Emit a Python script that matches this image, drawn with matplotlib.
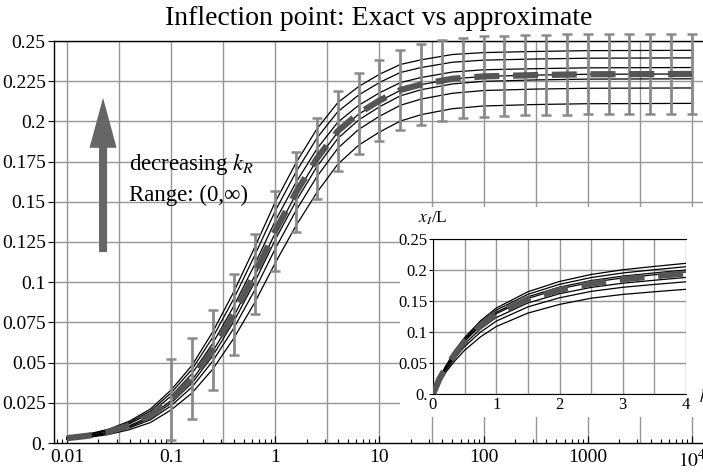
import numpy as np
import matplotlib
matplotlib.use("Agg")
import matplotlib.pyplot as plt
from matplotlib.ticker import LogLocator, NullFormatter, FixedLocator
from matplotlib.patches import FancyArrowPatch

plt.rcParams['font.family'] = ['Liberation Serif', 'DejaVu Serif']
plt.rcParams['mathtext.fontset'] = 'stix'

# ---- main panel (log x) ----
main_logx = [-2.0, -1.8, -1.6, -1.4, -1.2, -1.0, -0.8, -0.6, -0.4, -0.2, 0.0, 0.2, 0.4,
             0.6, 0.8, 1.0, 1.2, 1.4, 1.7, 2.0, 2.5, 3.0, 4.0]

exact_a = [0.0038, 0.0055, 0.0086, 0.0136, 0.0211, 0.0330, 0.0483, 0.0692, 0.0939, 0.1214, 0.1500, 0.1744, 0.1954,
           0.2117, 0.2217, 0.2293, 0.2354, 0.2383, 0.2416, 0.2428, 0.2435, 0.2440, 0.2442]
exact_b = [0.0035, 0.0052, 0.0081, 0.0128, 0.0198, 0.0312, 0.0458, 0.0658, 0.0896, 0.1164, 0.1444, 0.1687, 0.1897,
           0.2061, 0.2164, 0.2242, 0.2304, 0.2335, 0.2368, 0.2381, 0.2388, 0.2393, 0.2395]
exact_c = [0.0033, 0.0049, 0.0076, 0.0120, 0.0185, 0.0292, 0.0431, 0.0621, 0.0850, 0.1108, 0.1382, 0.1622, 0.1830,
           0.1995, 0.2100, 0.2178, 0.2241, 0.2273, 0.2307, 0.2321, 0.2328, 0.2333, 0.2335]
exact_d = [0.0029, 0.0044, 0.0068, 0.0108, 0.0166, 0.0264, 0.0392, 0.0570, 0.0788, 0.1037, 0.1307, 0.1549, 0.1761,
           0.1933, 0.2045, 0.2126, 0.2193, 0.2229, 0.2264, 0.2280, 0.2288, 0.2293, 0.2295]
exact_e = [0.0027, 0.0041, 0.0064, 0.0101, 0.0156, 0.0249, 0.0372, 0.0543, 0.0755, 0.0998, 0.1265, 0.1506, 0.1719,
           0.1894, 0.2009, 0.2091, 0.2159, 0.2197, 0.2233, 0.2249, 0.2258, 0.2263, 0.2265]
exact_f = [0.0025, 0.0039, 0.0060, 0.0094, 0.0144, 0.0232, 0.0348, 0.0510, 0.0713, 0.0948, 0.1209, 0.1447, 0.1657,
           0.1833, 0.1950, 0.2032, 0.2100, 0.2139, 0.2175, 0.2192, 0.2201, 0.2206, 0.2208]
exact_g = [0.0022, 0.0034, 0.0053, 0.0083, 0.0127, 0.0206, 0.0311, 0.0460, 0.0650, 0.0871, 0.1121, 0.1353, 0.1559,
           0.1734, 0.1852, 0.1934, 0.2002, 0.2042, 0.2079, 0.2096, 0.2105, 0.2110, 0.2112]
approx_main = [0.0030, 0.0045, 0.0070, 0.0110, 0.0170, 0.0270, 0.0400, 0.0580, 0.0800, 0.1050, 0.1320, 0.1560, 0.1770,
               0.1940, 0.2050, 0.2130, 0.2195, 0.2230, 0.2265, 0.2280, 0.2288, 0.2293, 0.2295]

bar_logx = [-1.0, -0.8, -0.6, -0.4, -0.2, 0.0, 0.2, 0.4, 0.6, 0.8, 1.0, 1.2, 1.4,
            1.6, 1.8, 2.0, 2.2, 2.4, 2.6, 2.8, 3.0, 3.2, 3.4, 3.6, 3.8, 4.0]
bar_mid = [0.027, 0.040, 0.058, 0.080, 0.105, 0.132, 0.156, 0.177, 0.194, 0.205, 0.213, 0.2195, 0.223,
           0.2255, 0.227, 0.228, 0.2284, 0.2287, 0.2289, 0.2291, 0.2293, 0.2294, 0.2294, 0.2295, 0.2295, 0.2295]
bar_err = 0.025

main_xticks = [0.01, 0.1, 1, 10, 100, 1000, 10000]
main_xlabels = ['0.01', '0.1', '1', '10', '100', '1000', r'$10^4$']
main_yticks = [0, 0.025, 0.05, 0.075, 0.1, 0.125, 0.15, 0.175, 0.2, 0.225, 0.25]
main_ylabels = ['0.', '0.025', '0.05', '0.075', '0.1', '0.125', '0.15', '0.175', '0.2', '0.225', '0.25']

# ---- inset (linear x) ----
inset_x = [0, 0.1, 0.2, 0.35, 0.5, 0.75, 1.0, 1.5, 2.0, 2.5, 3.0, 3.5, 4.0]
in_a = [0, 0.0257, 0.0449, 0.0696, 0.0910, 0.1180, 0.1386, 0.1649, 0.1815, 0.1928, 0.2004, 0.2058, 0.2108]
in_b = [0, 0.0251, 0.0439, 0.0679, 0.0888, 0.1152, 0.1353, 0.1608, 0.1769, 0.1878, 0.1952, 0.2005, 0.2053]
in_c = [0, 0.0245, 0.0428, 0.0663, 0.0867, 0.1124, 0.1319, 0.1568, 0.1724, 0.1830, 0.1902, 0.1953, 0.2000]
in_d = [0, 0.0240, 0.0420, 0.0650, 0.0850, 0.1103, 0.1295, 0.1541, 0.1696, 0.1801, 0.1872, 0.1923, 0.1969]
in_e = [0, 0.0228, 0.0399, 0.0618, 0.0808, 0.1049, 0.1233, 0.1468, 0.1618, 0.1719, 0.1787, 0.1835, 0.1880]
in_f = [0, 0.0216, 0.0378, 0.0585, 0.0765, 0.0997, 0.1175, 0.1405, 0.1552, 0.1655, 0.1721, 0.1767, 0.1810]
in_g = [0, 0.0199, 0.0349, 0.0540, 0.0706, 0.0921, 0.1088, 0.1305, 0.1445, 0.1545, 0.1606, 0.1649, 0.1689]
in_approx = [0, 0.024, 0.042, 0.065, 0.085, 0.110, 0.129, 0.153, 0.168, 0.178, 0.185, 0.190, 0.1946]

inset_yticks = [0, 0.05, 0.1, 0.15, 0.2, 0.25]
inset_ylabels = ['0.', '0.05', '0.1', '0.15', '0.2', '0.25']
inset_xticks = [0, 1, 2, 3, 4]

W, H = 703, 474
fig = plt.figure(figsize=(W / 100, H / 100), dpi=100)

def fr(x0, y0, x1, y1):
    # pixel box -> figure fraction
    return [x0 / W, 1 - y1 / H, (x1 - x0) / W, (y1 - y0) / H]

grid_c = '#969696'
dash_c = '#555555'

ax = fig.add_axes(fr(54, 41, 703, 443))
ax.set_xscale('log')
ax.set_xlim(10 ** -2.125, 10 ** 4.106)
ax.set_ylim(0, 0.25)

for k in range(-4, 9):
    ax.axvline(10 ** (k / 2), color=grid_c, lw=1.0, zorder=0)
for yv in main_yticks[1:]:
    ax.axhline(yv, color=grid_c, lw=1.0, zorder=0)

mx = 10 ** np.array(main_logx)
for cur in [exact_a, exact_b, exact_c, exact_d, exact_e, exact_f, exact_g]:
    ax.plot(mx, cur, color='black', lw=0.9, zorder=3)

eb = ax.errorbar(10 ** np.array(bar_logx), bar_mid, yerr=bar_err, fmt='none',
                 ecolor='#8a8a8a', elinewidth=2.0, capsize=3.8, capthick=1.8, zorder=4)
for art in eb.lines[1] + eb.lines[2]:
    art.set_clip_on(False)

ax.plot(mx, approx_main, color=dash_c, lw=4.5, ls=(0, (4.0, 2.2)), zorder=5)

ax.set_xticks(main_xticks)
ax.set_xticklabels(main_xlabels)
ax.xaxis.set_minor_locator(LogLocator(base=10, subs=np.arange(2, 10)))
ax.xaxis.set_minor_formatter(NullFormatter())
ax.set_yticks(main_yticks)
ax.set_yticklabels(main_ylabels)
ax.tick_params(axis='x', which='major', direction='in', length=5, labelsize=14, pad=4)
ax.tick_params(axis='x', which='minor', direction='in', length=3, width=0.8)
ax.tick_params(axis='y', direction='out', length=4, labelsize=14, pad=2)
ax.spines['right'].set_visible(False)
for s in ['left', 'bottom', 'top']:
    ax.spines[s].set_linewidth(1.0)

arrow = FancyArrowPatch((10 ** -1.654, 0.117), (10 ** -1.654, 0.2164),
                        arrowstyle='simple,head_length=3.6,head_width=1.95,tail_width=0.58',
                        mutation_scale=10, color='#666666', lw=0, zorder=6)
ax.add_patch(arrow)
ax.text(0.0397, 0.1698, r'decreasing $k_R$', fontsize=16.5, zorder=6)
ax.text(0.0397, 0.1507, 'Range: (0,\u221e)', fontsize=16.5, zorder=6)

fig.text(378.5 / W, 1 - 25 / H, 'Inflection point: Exact vs approximate',
         ha='center', va='baseline', fontsize=20)

# white cover behind the inset
cover = fig.add_axes(fr(400, 207, 703, 417))
cover.set_facecolor('white')
cover.set_xticks([])
cover.set_yticks([])
for s in cover.spines.values():
    s.set_visible(False)

ins = fig.add_axes(fr(433, 239, 686, 394))
ins.set_xlim(0, 4)
ins.set_ylim(0, 0.25)
ins.xaxis.set_major_locator(FixedLocator(inset_xticks))
ins.xaxis.set_minor_locator(FixedLocator([0.5, 1.5, 2.5, 3.5]))
ins.set_yticks(inset_yticks)
ins.set_yticklabels(inset_ylabels)
ins.grid(True, which='both', axis='x', color=grid_c, lw=1.0, zorder=0)
ins.grid(True, which='major', axis='y', color=grid_c, lw=1.0, zorder=0)
ins.set_axisbelow(True)
for cur in [in_a, in_b, in_c, in_d, in_e, in_f, in_g]:
    ins.plot(inset_x, cur, color='black', lw=0.9, zorder=3)
ins.plot(inset_x, in_approx, color=dash_c, lw=4.5, ls=(0, (4.0, 2.2)), zorder=5)
ins.tick_params(axis='x', which='both', length=0, labelsize=12, pad=2)
ins.tick_params(axis='y', direction='out', length=3, labelsize=12, pad=1)
ins.spines['right'].set_visible(False)
fig.text(418 / W, 1 - 223 / H, r'$x_I$/L', fontsize=12.5, ha='left', va='baseline')
fig.text(699 / W, 1 - 397 / H, r'$k_R$', fontsize=12, ha='left', va='center')

fig.savefig('out.png', dpi=100)
